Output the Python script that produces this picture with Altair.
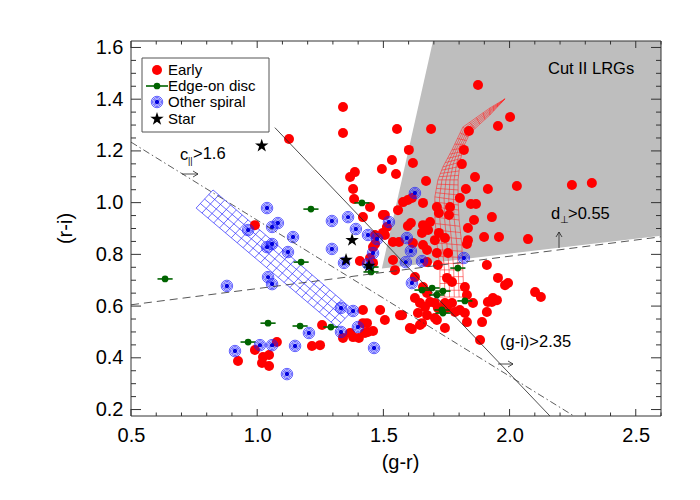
import altair as alt
import pandas as pd

W, H = 530, 375
X_DOMAIN = [0.5, 2.6]
Y_DOMAIN = [0.175, 1.625]
FONT = "Liberation Sans"
STAR = ("M0,-1L0.2245,-0.309L0.951,-0.309L0.363,0.118L0.588,0.809L0,0.382"
        "L-0.588,0.809L-0.363,0.118L-0.951,-0.309L-0.2245,-0.309Z")

# ---------------- data ----------------
early_gr = [1.126,1.340,1.340,1.875,2.002,1.954,1.839,1.689,1.554,1.601,
            1.617,1.534,1.494,1.550,1.669,1.819,1.811,1.863,1.914,2.029,
            2.247,2.326,1.827,1.803,1.847,1.867,1.859,1.930,1.835,1.899,
            1.958,2.073,1.835,1.657,1.578,1.597,1.613,1.558,1.506,1.712,
            1.720,1.764,1.760,1.609,1.597,1.657,1.685,1.677,1.653,1.720,
            1.704,1.744,1.506,1.538,1.562,1.617,1.657,1.673,1.712,1.756,
            1.831,1.538,1.546,1.673,1.716,1.910,1.752,1.772,1.823,1.954,
            1.447,1.419,1.498,1.498,1.467,1.459,1.447,1.625,1.982,2.101,
            2.124,1.934,1.914,1.855,1.891,1.883,1.994,1.831,1.657,1.625,
            1.673,1.645,1.665,1.685,1.704,1.716,1.744,1.752,1.772,1.784,
            1.803,1.823,1.637,1.673,1.704,1.566,1.487,1.506,1.613,1.653,
            1.712,1.744,1.831,1.910,1.930,1.950,1.419,1.574,1.605,1.645,
            1.419,1.439,1.368,1.340,1.257,1.380,1.403,1.427,1.249,1.217,
            1.078,0.991,0.924,1.023,1.047,1.019,1.047,0.991,1.387,1.368,
            1.380,1.384,1.514,1.467,1.407,1.459,1.459,1.435]
early_ri = [1.246,1.370,1.269,1.455,1.331,1.296,1.277,1.285,1.285,1.204,
            1.153,1.165,1.130,1.111,1.084,1.204,1.149,1.099,1.053,1.064,
            1.068,1.076,1.053,1.018,0.995,0.995,0.933,0.944,0.902,0.867,
            0.867,0.859,0.855,0.999,1.002,1.010,1.018,0.971,0.952,0.983,
            0.960,0.983,0.952,0.921,0.910,0.913,0.925,0.894,0.883,0.883,
            0.855,0.863,0.875,0.848,0.848,0.844,0.836,0.817,0.805,0.805,
            0.840,0.778,0.739,0.770,0.759,0.759,0.709,0.693,0.674,0.709,
            0.983,0.944,0.952,0.883,0.875,0.828,0.786,0.712,0.681,0.654,
            0.635,0.631,0.616,0.612,0.538,0.469,0.689,0.643,0.674,0.631,
            0.651,0.612,0.596,0.616,0.612,0.593,0.612,0.593,0.612,0.577,
            0.585,0.573,0.573,0.565,0.554,0.565,0.585,0.546,0.511,0.534,
            0.546,0.515,0.538,0.577,0.616,0.623,0.585,0.565,0.515,0.527,
            0.534,0.500,0.496,0.477,0.527,0.480,0.477,0.496,0.449,0.446,
            0.461,0.430,0.388,0.403,0.411,0.380,0.368,0.913,1.118,1.099,
            1.053,1.014,0.906,0.840,0.774,0.767,0.504,0.534]

edge_gr = [0.635,0.964,1.043,1.170,1.292,1.174,1.213,1.415,1.451,1.451,
           1.795,1.653,1.693,1.736,1.712,1.823,1.732,1.736]
edge_ri = [0.705,0.461,0.534,0.523,0.519,0.770,0.975,0.999,0.751,0.732,
           0.747,0.662,0.670,0.658,0.643,0.620,0.585,0.573]
edge_err = [0.03] * len(edge_gr)

spiral_gr = [1.039,1.059,1.082,0.964,1.039,1.059,1.122,1.142,1.296,1.360,
             1.391,1.296,1.344,1.439,1.459,1.475,1.522,1.439,1.593,1.043,
             1.059,0.880,1.332,1.380,1.205,1.332,1.399,0.912,1.011,1.059,
             1.150,1.118,1.463,1.625,1.609,1.653,1.589,1.819,1.613]
spiral_ri = [0.979,0.906,0.921,0.894,0.828,0.840,0.809,0.867,0.929,0.944,
             0.898,0.821,0.767,0.875,0.805,0.859,0.925,0.763,0.863,0.712,
             0.685,0.678,0.593,0.581,0.496,0.500,0.519,0.426,0.449,0.449,
             0.446,0.337,0.438,1.037,0.813,0.774,0.770,0.786,0.689]

star_gr = [1.018, 1.376, 1.352, 1.443]
star_ri = [1.220, 0.855, 0.778, 0.755]

cut_gr = [1.494, 1.6965, 2.6]
cut_lo = [0.745, 0.768, 0.872]
cut_hi = [0.745, 1.625, 1.625]

dperp_gr, dperp_ri = [0.5, 2.6], [0.605, 0.868]
cpar_gr, cpar_ri = [0.5, 2.255], [1.234, 0.175]
gi_gr, gi_ri = [1.07, 2.16], [1.29, 0.175]

blue_A = (0.825, 1.049)
blue_B = (0.758, 0.979)
blue_C = (1.316, 0.519)
blue_D = (1.380, 0.585)

red_left_gr = [1.724,1.724,1.712,1.704,1.704,1.716,1.736,1.772,1.815,1.922,1.982]
red_left_ri = [0.635,0.740,0.844,0.944,1.022,1.088,1.138,1.204,1.292,1.366,1.401]
red_right_gr = [1.819,1.815,1.811,1.800,1.796,1.796,1.804,1.815,1.843,1.922,1.982]
red_right_ri = [0.635,0.740,0.836,0.933,1.010,1.088,1.157,1.211,1.269,1.339,1.401]

x_major = [0.5, 1.0, 1.5, 2.0, 2.5]
x_minor = [round(0.5 + 0.1 * i, 2) for i in range(22) if i % 5 != 0]
y_major = [0.2, 0.4, 0.6, 0.8, 1.0, 1.2, 1.4, 1.6]
y_minor = [round(0.2 + 0.05 * i, 2) for i in range(29) if i % 4 != 0]


def lerp(p, q, u):
    return (p[0] + u * (q[0] - p[0]), p[1] + u * (q[1] - p[1]))


def quad_mesh(A, B, C, D, n_along, n_across):
    segs = []

    def P(s, t):
        return lerp(lerp(A, D, s), lerp(B, C, s), t)

    for j in range(n_across + 1):
        t = j / n_across
        p0, p1 = P(0, t), P(1, t)
        segs.append((p0[0], p0[1], p1[0], p1[1]))
    for i in range(n_along + 1):
        s = i / n_along
        p0, p1 = P(s, 0), P(s, 1)
        segs.append((p0[0], p0[1], p1[0], p1[1]))
    return pd.DataFrame(segs, columns=["x", "y", "x2", "y2"])


def band_mesh(left, right, sub, n_across):
    segs = []
    for j in range(n_across + 1):
        t = j / n_across
        pts = [lerp(l, r, t) for l, r in zip(left, right)]
        for a, b in zip(pts[:-1], pts[1:]):
            segs.append((a[0], a[1], b[0], b[1]))
    for k in range(len(left) - 1):
        for m in range(sub):
            u = m / sub
            l = lerp(left[k], left[k + 1], u)
            r = lerp(right[k], right[k + 1], u)
            segs.append((l[0], l[1], r[0], r[1]))
    return pd.DataFrame(segs, columns=["x", "y", "x2", "y2"])


xs = alt.Scale(domain=X_DOMAIN, nice=False, zero=False)
ys = alt.Scale(domain=Y_DOMAIN, nice=False, zero=False)

x_axis = alt.Axis(values=x_major, format=".1f", ticks=False, domain=False, grid=False,
                  labelFont=FONT, labelFontSize=20, labelColor="black", labelPadding=9,
                  labelFlush=False, labelOverlap=False,
                  title="(g-r)", titleFont=FONT, titleFontSize=20, titleFontWeight="normal",
                  titleColor="black", titleX=269, titleY=46, titleAlign="center",
                  titleBaseline="middle")
y_axis = alt.Axis(values=y_major, format=".1f", ticks=False, domain=False, grid=False,
                  labelFont=FONT, labelFontSize=20, labelColor="black", labelPadding=8,
                  labelFlush=False, labelOverlap=False,
                  title="(r-i)", titleFont=FONT, titleFontSize=20, titleFontWeight="normal",
                  titleColor="black", titleX=-66, titleY=187, titleAngle=270,
                  titleAlign="center", titleBaseline="middle")


def X(f):
    return alt.X(f, type="quantitative", scale=xs, axis=x_axis)


def Y(f):
    return alt.Y(f, type="quantitative", scale=ys, axis=y_axis)


one = pd.DataFrame({"a": [0]})


def ptext(t, x, y, size=16.5, font=FONT, align="left"):
    return alt.Chart(one).mark_text(text=t, font=font, fontSize=size, color="black",
                                    align=align, baseline="middle").encode(
        x=alt.value(x), y=alt.value(y))


def prule(x1, y1, x2, y2, color="#222222", w=0.8):
    return alt.Chart(one).mark_rule(color=color, strokeWidth=w).encode(
        x=alt.value(x1), y=alt.value(y1), x2=alt.value(x2), y2=alt.value(y2))


def line_df(gx, gy):
    return pd.DataFrame({"x": gx, "y": gy})


layers = []

# grey region
cut_df = pd.DataFrame({"gr": cut_gr, "lo": cut_lo, "hi": cut_hi})
layers.append(alt.Chart(cut_df).mark_area(color="#bebebe", opacity=1, clip=True).encode(
    x=X("gr"), y=Y("lo"), y2="hi:Q"))

# model meshes
blue_df = quad_mesh(blue_A, blue_B, blue_C, blue_D, 24, 4)
layers.append(alt.Chart(blue_df).mark_rule(color="#2a2aff", strokeWidth=0.7, clip=True).encode(
    x=X("x"), y=Y("y"), x2="x2", y2="y2"))
red_df = band_mesh(list(zip(red_left_gr, red_left_ri)), list(zip(red_right_gr, red_right_ri)), 4, 5)
layers.append(alt.Chart(red_df).mark_rule(color="#ff2a2a", strokeWidth=0.6, clip=True).encode(
    x=X("x"), y=Y("y"), x2="x2", y2="y2"))

# points
early_df = pd.DataFrame({"gr": early_gr, "ri": early_ri})
layers.append(alt.Chart(early_df).mark_circle(size=100, color="#ff0000", opacity=1, clip=True).encode(
    x=X("gr"), y=Y("ri")))

edge_df = pd.DataFrame({"gr": edge_gr, "ri": edge_ri,
                        "lo": [g - e for g, e in zip(edge_gr, edge_err)],
                        "hi": [g + e for g, e in zip(edge_gr, edge_err)]})
layers.append(alt.Chart(edge_df).mark_rule(color="#006400", strokeWidth=1.6, clip=True).encode(
    x=X("lo"), x2="hi", y=Y("ri")))
layers.append(alt.Chart(edge_df).mark_circle(size=45, color="#006400", opacity=1, clip=True).encode(
    x=X("gr"), y=Y("ri")))

spiral_df = pd.DataFrame({"gr": spiral_gr, "ri": spiral_ri})
for s in [132, 81, 42]:
    layers.append(alt.Chart(spiral_df).mark_point(shape="circle", filled=False, size=s,
                                                  color="#1a1aff", strokeWidth=0.7, opacity=1,
                                                  clip=True).encode(x=X("gr"), y=Y("ri")))
layers.append(alt.Chart(spiral_df).mark_circle(size=20, color="#0000dd", opacity=1, clip=True).encode(
    x=X("gr"), y=Y("ri")))

star_df = pd.DataFrame({"gr": star_gr, "ri": star_ri})
layers.append(alt.Chart(star_df).mark_point(shape=STAR, filled=True, size=200, color="black",
                                            opacity=1, clip=True).encode(x=X("gr"), y=Y("ri")))

# selection lines
layers.append(alt.Chart(line_df(gi_gr, gi_ri)).mark_line(
    color="#222222", strokeWidth=0.8, clip=True).encode(x=X("x"), y=Y("y")))
layers.append(alt.Chart(line_df(dperp_gr, dperp_ri)).mark_line(
    color="#444444", strokeWidth=0.9, strokeDash=[8, 5], clip=True).encode(x=X("x"), y=Y("y")))
layers.append(alt.Chart(line_df(cpar_gr, cpar_ri)).mark_line(
    color="#333333", strokeWidth=0.8, strokeDash=[7, 3, 1.5, 3], clip=True).encode(x=X("x"), y=Y("y")))

# arrows
layers += [prule(51, 133, 67, 133), prule(67, 133, 62, 130), prule(67, 133, 62, 136)]
layers += [prule(367, 323, 382, 323), prule(382, 323, 377, 320), prule(382, 323, 377, 326)]
layers += [prule(428, 207, 428, 191), prule(428, 191, 425, 196), prule(428, 191, 431, 196)]

# annotation texts
layers += [
    ptext("Cut II LRGs", 417, 28),
    ptext("c", 49, 114),
    ptext("||", 57, 120, size=9),
    ptext(">1.6", 62, 113),
    ptext("(g-i)>2.35", 369, 301),
    ptext("d", 420, 173),
    ptext("\u22a5", 429, 179, size=10, font="DejaVu Sans"),
    ptext(">0.55", 437, 173),
]

# legend
layers.append(alt.Chart(one).mark_rect(fill="white", stroke="#555555", strokeWidth=1).encode(
    x=alt.value(11), x2=alt.value(138), y=alt.value(17), y2=alt.value(91)))
layers.append(alt.Chart(one).mark_circle(size=100, color="#ff0000", opacity=1).encode(
    x=alt.value(26), y=alt.value(29)))
layers.append(prule(15, 45, 37, 45, color="#006400", w=1.6))
layers.append(alt.Chart(one).mark_circle(size=45, color="#006400", opacity=1).encode(
    x=alt.value(26), y=alt.value(45)))
for s in [132, 81, 42]:
    layers.append(alt.Chart(one).mark_point(shape="circle", filled=False, size=s, color="#1a1aff",
                                            strokeWidth=0.7, opacity=1).encode(
        x=alt.value(26), y=alt.value(61)))
layers.append(alt.Chart(one).mark_circle(size=20, color="#0000dd", opacity=1).encode(
    x=alt.value(26), y=alt.value(61)))
layers.append(alt.Chart(one).mark_point(shape=STAR, filled=True, size=200, color="black",
                                        opacity=1).encode(x=alt.value(26), y=alt.value(78)))
layers += [
    ptext("Early", 37, 29, size=15),
    ptext("Edge-on disc", 37, 45, size=15),
    ptext("Other spiral", 37, 61, size=15),
    ptext("Star", 37, 78, size=15),
]


# inward ticks on all four sides
def xticks(vals, length):
    d = pd.DataFrame({"v": vals})
    bot = alt.Chart(d).mark_rule(color="#333333", strokeWidth=1).encode(
        x=X("v"), y=alt.value(H), y2=alt.value(H - length))
    top = alt.Chart(d).mark_rule(color="#333333", strokeWidth=1).encode(
        x=X("v"), y=alt.value(0), y2=alt.value(length))
    return [bot, top]


def yticks(vals, length):
    d = pd.DataFrame({"v": vals})
    left = alt.Chart(d).mark_rule(color="#333333", strokeWidth=1).encode(
        y=Y("v"), x=alt.value(0), x2=alt.value(length))
    right = alt.Chart(d).mark_rule(color="#333333", strokeWidth=1).encode(
        y=Y("v"), x=alt.value(W), x2=alt.value(W - length))
    return [left, right]

layers += xticks(x_major, 7) + xticks(x_minor, 3.5)
layers += yticks(y_major, 10) + yticks(y_minor, 5)

layers.append(alt.Chart(one).mark_rect(fillOpacity=0, stroke="#333333", strokeWidth=1).encode(
    x=alt.value(0), x2=alt.value(W), y=alt.value(0), y2=alt.value(H)))

chart = alt.layer(*layers).properties(
    width=W, height=H,
    autosize=alt.AutoSizeParams(type="none"),
    padding={"left": 123, "top": 33, "right": 20, "bottom": 60},
    background="white",
).configure_view(strokeWidth=0)

chart.save("out.html", embed_options={"renderer": "svg", "actions": False})
